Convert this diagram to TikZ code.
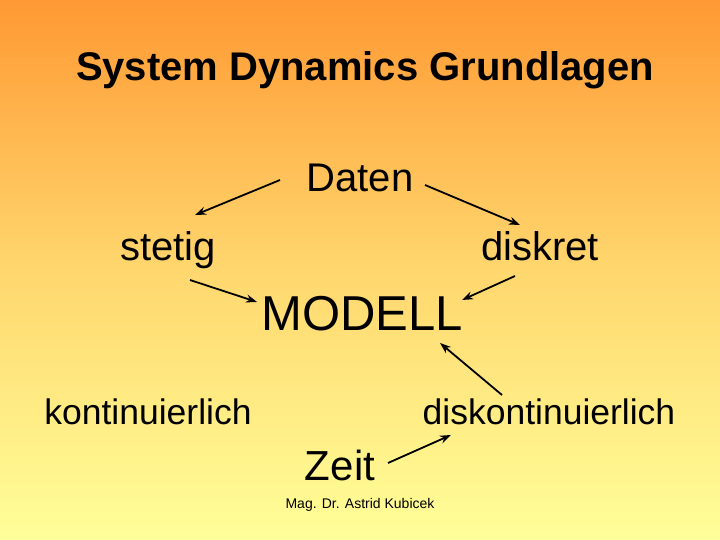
\documentclass[tikz,border=0pt]{standalone}
\usepackage{fontspec}
\setmainfont{Liberation Sans}
\usetikzlibrary{arrows.meta}
\begin{document}
\begin{tikzpicture}[x=1pt,y=-1pt,
  lbl/.style={inner sep=0pt,anchor=base},
  arr/.style={line width=1.8pt,-{Stealth[length=11pt,width=8pt]}}]
\shade[top color={rgb,255:red,255;green,153;blue,51},bottom color={rgb,255:red,255;green,255;blue,153},middle color={rgb,255:red,255;green,215;blue,110}] (0,0) rectangle (720,540);
\useasboundingbox (0,0) rectangle (720,540);
\node[lbl,font=\fontsize{40}{44}\selectfont\bfseries] (title) at (365,81) {System Dynamics Grundlagen};
\node[lbl,font=\fontsize{40}{44}\selectfont] (daten) at (360,192) {Daten};
\node[lbl,font=\fontsize{40}{44}\selectfont] (stetig) at (168,260) {stetig};
\node[lbl,font=\fontsize{40}{44}\selectfont] (diskret) at (540,260) {diskret};
\node[lbl,font=\fontsize{49}{53}\selectfont] (modell) at (362,330) {MODELL};
\node[lbl,font=\fontsize{35.5}{39}\selectfont] (kont) at (148,424) {kontinuierlich};
\node[lbl,font=\fontsize{35.5}{39}\selectfont] (diskont) at (549,424) {diskontinuierlich};
\node[lbl,font=\fontsize{42}{46}\selectfont] (zeit) at (340,480) {Zeit};
\node[lbl,font=\fontsize{14}{16}\selectfont] (mag) at (360,508) {Mag. Dr. Astrid Kubicek};
\coordinate (a1) at (280,180); \coordinate (a2) at (195,215);
\coordinate (b1) at (425,185); \coordinate (b2) at (520,225);
\coordinate (c1) at (190,280); \coordinate (c2) at (257,302);
\coordinate (d1) at (515,276); \coordinate (d2) at (462,300);
\coordinate (e1) at (502,395); \coordinate (e2) at (440,343);
\coordinate (f1) at (388,463); \coordinate (f2) at (451,435);
\draw[arr] (a1) -- (a2);
\draw[arr] (b1) -- (b2);
\draw[arr] (c1) -- (c2);
\draw[arr] (d1) -- (d2);
\draw[arr] (e1) -- (e2);
\draw[arr] (f1) -- (f2);
\end{tikzpicture}
\end{document}
